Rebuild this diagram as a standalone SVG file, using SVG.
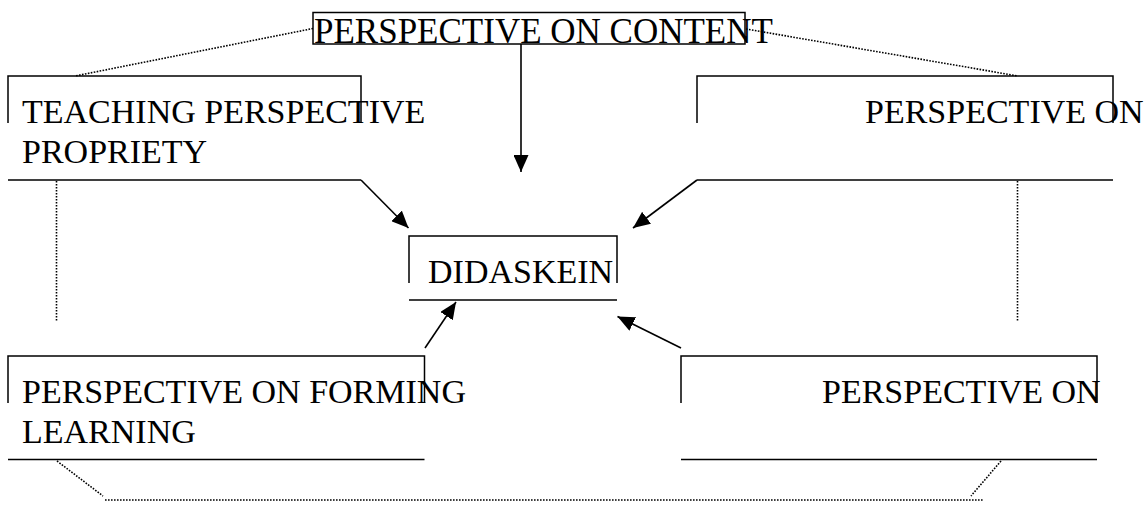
<svg xmlns="http://www.w3.org/2000/svg" width="1148" height="521" viewBox="0 0 1148 521">
<defs>
<marker id="ah" viewBox="0 0 17 15" refX="17" refY="7.5" markerUnits="userSpaceOnUse" markerWidth="17" markerHeight="15" orient="auto">
<path d="M0,0 L17,7.5 L0,15 Z" fill="#000"/>
</marker>
<style>
.frame{fill:none;stroke:#000;stroke-width:1.5}
.lbl{font-family:"Liberation Serif","Times New Roman",serif;font-size:34px;fill:#000}
.conn{fill:none;stroke:#000;stroke-width:1.6}
.dot{fill:none;stroke:#000;stroke-width:1.6;stroke-dasharray:1.6 1.4}
</style>
</defs>
<rect width="1148" height="521" fill="#fff"/>
<g id="connectors">
<path class="dot" d="M313,28.5 L75,76"/>
<path class="dot" d="M746,29 L1018,76"/>
<path class="dot" d="M56.5,181 V322"/>
<path class="dot" d="M1017.5,181 V322"/>
<path class="dot" d="M57,461 L103,496"/>
<path class="dot" d="M105,500 H984"/>
<path class="dot" d="M1001,461 L971,496"/>
<path class="conn" d="M521,44 V172" marker-end="url(#ah)"/>
<path class="conn" d="M361,180 L408.5,228" marker-end="url(#ah)"/>
<path class="conn" d="M697,180 L633,228" marker-end="url(#ah)"/>
<path class="conn" d="M425,348 L456,302" marker-end="url(#ah)"/>
<path class="conn" d="M681,348 L617.5,316.5" marker-end="url(#ah)"/>
</g>
<g id="node-content">
<rect class="frame" x="313" y="12.5" width="432" height="31.5"/>
<text class="lbl" x="314" y="42.7" style="font-size:35px">PERSPECTIVE ON CONTENT</text>
</g>
<g id="node-teaching">
<path class="frame" d="M8,123 V76 H361 V123 M8,180 H361"/>
<text class="lbl" x="22" y="123.3">TEACHING PERSPECTIVE</text>
<text class="lbl" x="22" y="162.7">PROPRIETY</text>
</g>
<g id="node-perspective-right-top">
<path class="frame" d="M697,123 V76 H1113 V123 M697,180 H1113"/>
<text class="lbl" x="865" y="123.3">PERSPECTIVE ON</text>
</g>
<g id="node-didaskein">
<path class="frame" d="M409,283 V236 H617 V283 M409,300 H617"/>
<text class="lbl" x="428" y="283.3">DIDASKEIN</text>
</g>
<g id="node-forming">
<path class="frame" d="M8,403 V356 H424.5 V403 M8,459.5 H424.5"/>
<text class="lbl" x="22" y="403.3">PERSPECTIVE ON FORMING</text>
<text class="lbl" x="22" y="442.7">LEARNING</text>
</g>
<g id="node-perspective-right-bottom">
<path class="frame" d="M681,403 V356 H1097 V403 M681,459.5 H1097"/>
<text class="lbl" x="822" y="403.3">PERSPECTIVE ON</text>
</g>
</svg>
